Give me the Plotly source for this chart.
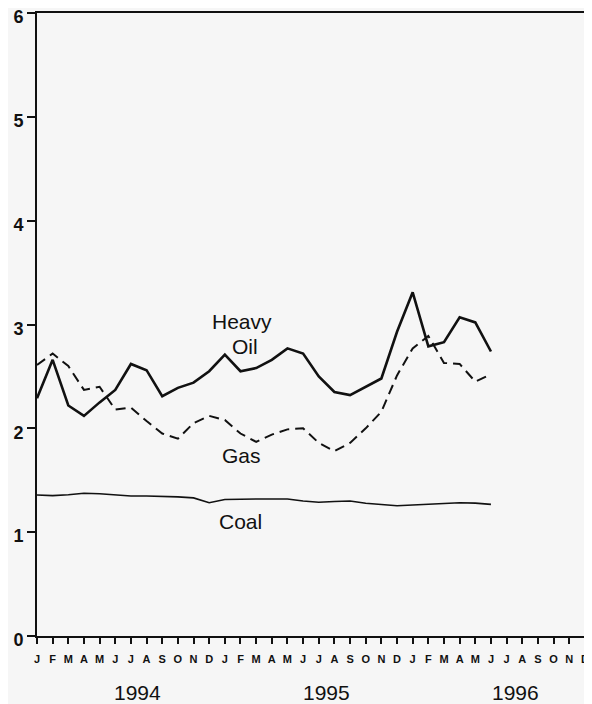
import plotly.graph_objects as go

months = ["J","F","M","A","M","J","J","A","S","O","N","D"] * 3
years = ["1994", "1995", "1996"]

heavy_oil = [2.29, 2.66, 2.22, 2.12, 2.25, 2.37, 2.62, 2.56, 2.31, 2.39,
             2.44, 2.55, 2.71, 2.55, 2.58, 2.66, 2.77, 2.72, 2.50, 2.35,
             2.32, 2.40, 2.48, 2.93, 3.31, 2.79, 2.83, 3.07, 3.02, 2.74]
gas = [2.61, 2.72, 2.60, 2.37, 2.40, 2.18, 2.20, 2.07, 1.95, 1.90,
       2.05, 2.12, 2.08, 1.95, 1.87, 1.94, 1.99, 2.00, 1.86, 1.78,
       1.86, 2.00, 2.16, 2.51, 2.77, 2.89, 2.63, 2.62, 2.45, 2.52]
coal = [1.358, 1.352, 1.36, 1.375, 1.37, 1.36, 1.349, 1.349, 1.348, 1.34,
        1.33, 1.284, 1.315, 1.32, 1.32, 1.32, 1.32, 1.30, 1.288, 1.295,
        1.30, 1.278, 1.265, 1.255, 1.262, 1.27, 1.28, 1.284, 1.28, 1.268]

x = list(range(len(heavy_oil)))
FONT = "Liberation Sans"
BG = "#f6f6f6"

fig = go.Figure()
fig.add_trace(go.Scatter(x=x, y=heavy_oil, mode="lines", name="Heavy Oil",
                         line=dict(color="#111", width=2.6)))
fig.add_trace(go.Scatter(x=x, y=gas, mode="lines", name="Gas",
                         line=dict(color="#111", width=2, dash="10px,6px")))
fig.add_trace(go.Scatter(x=x, y=coal, mode="lines", name="Coal",
                         line=dict(color="#111", width=1.6)))

labels = [("Heavy", 13.08, 3.03), ("Oil", 13.29, 2.79), ("Gas", 13.08, 1.74), ("Coal", 12.97, 1.10)]
for t, lx, ly in labels:
    fig.add_annotation(x=lx, y=ly, text=t, showarrow=False,
                       font=dict(family=FONT, size=21, color="#111"))

for yr, yx in zip(years, [6.4, 18.5, 30.6]):
    fig.add_annotation(x=yx, y=-0.09, yref="paper", yanchor="middle", text=yr,
                       showarrow=False,
                       font=dict(family=FONT, size=21, color="#111"))

fig.update_layout(
    width=584, height=696,
    margin=dict(l=29, r=4, t=5, b=68),
    paper_bgcolor=BG, plot_bgcolor=BG,
    showlegend=False,
    xaxis=dict(range=[0, 35.2], tickvals=list(range(36)), ticktext=months,
               automargin=False, ticklabeloverflow="allow", ticklabelstandoff=6,
               showgrid=False, zeroline=False, showline=True, linecolor="#111",
               linewidth=2, mirror=True, ticks="outside", ticklen=6, tickwidth=1.5,
               tickcolor="#111",
               tickfont=dict(family=FONT, size=11, color="#111", weight="bold")),
    yaxis=dict(range=[0, 6], tickvals=[0, 1, 2, 3, 4, 5, 6],
               automargin=False, ticklabeloverflow="allow", ticklabelshift=4,
               showgrid=False, zeroline=False, showline=True, linecolor="#111",
               linewidth=2, mirror=True, ticks="outside", ticklen=8, tickwidth=1.5,
               tickcolor="#111",
               tickfont=dict(family=FONT, size=18, color="#111", weight="bold")),
)

fig.write_html("out.html")
